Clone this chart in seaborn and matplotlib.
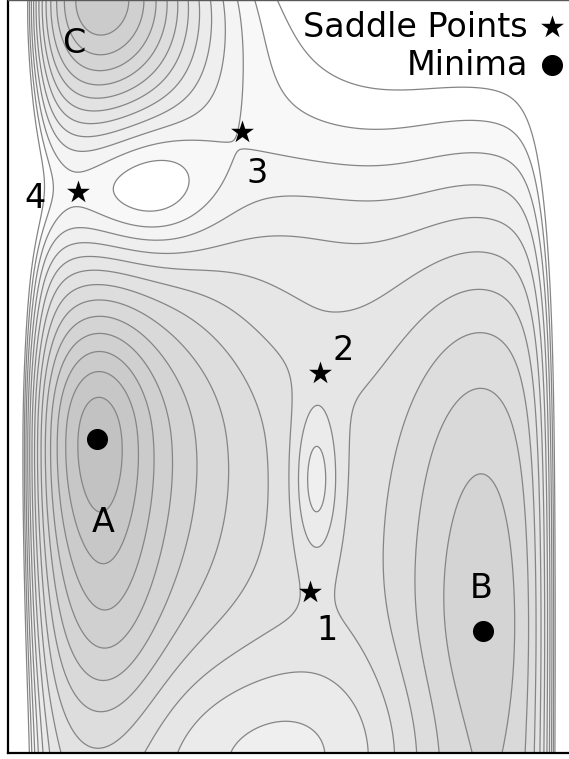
import numpy as np
import pandas as pd
import matplotlib
matplotlib.use("Agg")
import matplotlib.pyplot as plt
import seaborn as sns

# Stationary points of the energy surface (plot units)
minima_x = [0.89, 4.75]
minima_y = [3.14, 1.22]
saddle_x = [3.02, 3.12, 2.34, 0.70]
saddle_y = [1.61, 3.80, 6.21, 5.61]

# Labels next to the stationary points
label_text = ["A", "B", "C", "1", "2", "3", "4"]
label_x = [0.95, 4.73, 0.66, 3.19, 3.35, 2.49, 0.27]
label_y = [2.21, 1.55, 7.00, 1.13, 3.93, 5.70, 5.45]

# Gaussian terms of the surface: wells (negative) and bumps (positive)
#             A-core A-wide A-tail   B      C   C-wide ridge1 bottom ridge2 blob  band
term_amp = [-2.8, -5.2, -1.8, -4.0, -13.5, -3.0, 2.8, 2.4, 2.3, 2.3, -0.6]
term_x0 = [0.89, 0.89, 1.00, 4.75, 0.85, 2.00, 3.08, 2.55, 0.90, 1.45, 3.00]
term_y0 = [3.30, 3.14, 1.10, 1.00, 7.70, 8.20, 2.72, 0.00, 5.60, 5.68, 5.30]
term_sx = [0.36, 1.05, 0.40, 0.65, 0.80, 1.20, 0.16, 1.20, 0.80, 0.45, 0.70]
term_sy_up = [0.75, 1.40, 1.00, 3.00, 1.00, 1.30, 0.55, 0.72, 0.45, 0.52, 0.50]
term_sy_down = [0.95, 1.80, 1.00, 3.00, 1.00, 1.30, 0.55, 0.72, 0.45, 0.52, 0.50]

# Background rise toward the top, and the steep side walls (left, right)
slope_floor, slope_gain, slope_start, slope_soft = -4.8, 2.75, 4.27, 0.6
wall_pos = [0.0, 5.61]
wall_height = [27.0, 25.0]
wall_width = [0.15, 0.12]

# contour levels (energy units)
levels = np.arange(-13, 2)
x_max, y_max = 5.63, 7.53


def energy(X, Y):
    E = slope_floor + slope_gain * slope_soft * np.logaddexp(0.0, (Y - slope_start) / slope_soft)
    for a, x0, y0, sx, su, sd in zip(term_amp, term_x0, term_y0, term_sx,
                                     term_sy_up, term_sy_down):
        sy = np.where(Y > y0, su, sd)
        E = E + a * np.exp(-((X - x0) ** 2 / (2 * sx ** 2) + (Y - y0) ** 2 / (2 * sy ** 2)))
    E = E + wall_height[0] * np.exp(-(X - wall_pos[0]) / wall_width[0])
    E = E + wall_height[1] * np.exp((X - wall_pos[1]) / wall_width[1])
    return E


xs = np.linspace(0, x_max, 600)
ys = np.linspace(0, y_max, 800)
X, Y = np.meshgrid(xs, ys)
E = energy(X, Y)

# grey shades: darker for lower energy, white from level 0 upward
band_colors = []
for lo in levels[:-1]:
    g = 255 if lo >= 0 else 248 - 4.5 * (-1 - lo)
    band_colors.append((g / 255, g / 255, g / 255))

sns.set_theme(style="white")
plt.rcParams["font.family"] = ["DejaVu Sans"]
plt.rcParams["text.color"] = "black"

fig = plt.figure(figsize=(5.69, 7.59), dpi=100)
ax = fig.add_axes([8 / 569, 6 / 759, 563 / 569, 753 / 759])

ax.contourf(X, Y, E, levels=levels, colors=band_colors, zorder=1)
ax.contour(X, Y, E, levels=levels, colors="#858585", linewidths=0.9,
           linestyles="solid", zorder=2)

points = pd.DataFrame({
    "x": minima_x + saddle_x,
    "y": minima_y + saddle_y,
    "kind": ["Minima"] * len(minima_x) + ["Saddle Points"] * len(saddle_x),
})
sns.scatterplot(data=points[points.kind == "Minima"], x="x", y="y", marker="o",
                s=230, color="black", linewidth=0, ax=ax, zorder=5, legend=False)
sns.scatterplot(data=points[points.kind == "Saddle Points"], x="x", y="y", marker="*",
                s=300, color="black", linewidth=0, ax=ax, zorder=5, legend=False)

for t, lx, ly in zip(label_text, label_x, label_y):
    ax.text(lx, ly, t, ha="center", va="baseline", fontsize=24, color="black", zorder=6)

# key in the upper right corner
ax.text(5.20, 7.16, "Saddle Points", ha="right", va="baseline", fontsize=24,
        color="black", zorder=6)
ax.text(5.20, 6.78, "Minima", ha="right", va="baseline", fontsize=24,
        color="black", zorder=6)
ax.scatter([5.44], [7.26], marker="*", s=300, color="black", linewidths=0, zorder=6)
ax.scatter([5.44], [6.88], marker="o", s=230, color="black", linewidths=0, zorder=6)

ax.set_xlim(0, x_max)
ax.set_ylim(0, y_max)
ax.set_xticks([])
ax.set_yticks([])
ax.set_xlabel("")
ax.set_ylabel("")
for side in ["left", "bottom"]:
    ax.spines[side].set_color("black")
    ax.spines[side].set_linewidth(1.6)
ax.spines["top"].set_color("0.35")
ax.spines["top"].set_linewidth(1.0)
ax.spines["right"].set_visible(False)

fig.savefig("out.png", dpi=100)
